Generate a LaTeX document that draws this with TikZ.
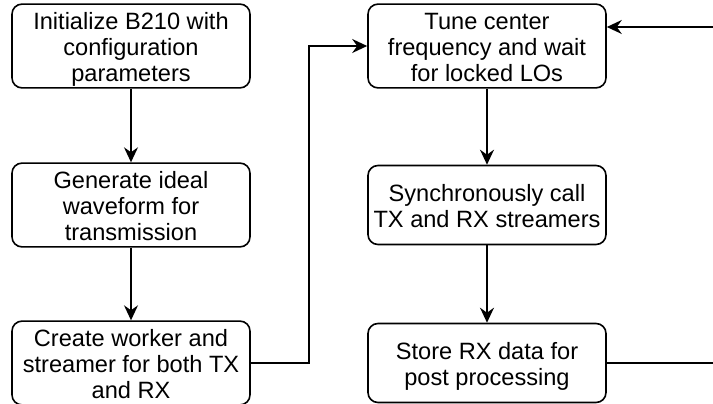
\documentclass[tikz,border=0pt]{standalone}
\usepackage{fontspec}
\setmainfont{Liberation Sans}
\usetikzlibrary{arrows.meta}

% fixed first-line height and last-line depth so every box sets its lines alike
\newcommand\firstlinestrut{\rule{0pt}{25pt}}
\newcommand\lastlinestrut{\rule[-6pt]{0pt}{6pt}}

\tikzset{
  stepbox/.style={draw=black, line width=1.6pt, rounded corners=10pt,
    fill=white, minimum width=238pt, minimum height=79pt, inner sep=0pt,
    align=center, font=\fontsize{23.6}{26.4}\selectfont},
  flow/.style={draw=black, line width=1.6pt,
    -{Stealth[length=15pt, width=14pt, inset=5pt]}},
}

\begin{document}
\begin{tikzpicture}[x=1pt, y=-1pt]
  \useasboundingbox (0,0) rectangle (713,404);
  \clip (0,0) rectangle (713,404);

  % left column
  \node[stepbox] (init)   at (131,46)  {\firstlinestrut Initialize B210 with\\configuration\\parameters\lastlinestrut};
  \node[stepbox] (gen)    at (131,205) {\firstlinestrut Generate ideal\\waveform for\\transmission\lastlinestrut};
  \node[stepbox] (create) at (131,363) {\firstlinestrut Create worker and\\streamer for both TX\\and RX\lastlinestrut};

  % right column
  \node[stepbox] (tune)  at (487,46)  {\firstlinestrut Tune center\\frequency and wait\\for locked LOs\lastlinestrut};
  \node[stepbox] (sync)  at (487,205) {\firstlinestrut Synchronously call\\TX and RX streamers\lastlinestrut};
  \node[stepbox] (store) at (487,363) {\firstlinestrut Store RX data for\\post processing\lastlinestrut};

  % bend points of the two elbow connectors
  \coordinate (bendA) at (309,200);
  \coordinate (bendB) at (722,200);

  \draw[flow] (init) -- (gen);
  \draw[flow] (gen) -- (create);
  \draw[flow] (create.east) -| (bendA) |- (tune.west);
  \draw[flow] (tune) -- (sync);
  \draw[flow] (sync) -- (store);
  \draw[flow] (store.east) -| (bendB) |- ([yshift=19pt]tune.east);
\end{tikzpicture}
\end{document}
